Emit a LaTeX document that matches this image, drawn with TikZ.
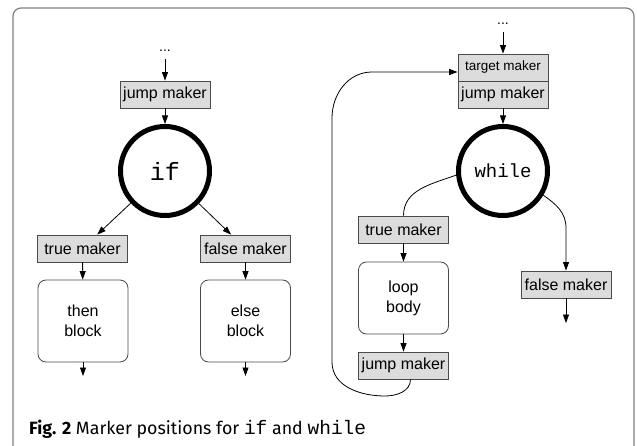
\documentclass[tikz,border=0pt]{standalone}
\usepackage{fontspec}
\setmainfont{Liberation Sans}
\setmonofont{Liberation Mono}
\newfontfamily\capfont{Fira Sans}
\usetikzlibrary{arrows.meta,calc}
\definecolor{boxfill}{HTML}{DCDCDC}
\definecolor{boxline}{HTML}{4A4A4A}
\definecolor{framecol}{HTML}{808080}
\begin{document}
\begin{tikzpicture}[x=1pt,y=1pt,
  marker/.style={draw=boxline, fill=boxfill, line width=0.8pt, minimum width=90pt,
    minimum height=27pt, inner sep=0pt, font=\fontsize{16}{18}\selectfont},
  block/.style={draw=boxline, fill=white, rounded corners=8pt, line width=0.8pt,
    minimum width=90pt, minimum height=82pt, align=center, inner sep=0pt,
    font=\fontsize{16}{20}\selectfont},
  cond/.style={circle, draw=black, line width=5pt, minimum size=89pt, inner sep=0pt},
  dotsn/.style={inner sep=0pt, font=\fontsize{14}{14}\selectfont},
  arr/.style={-{Triangle[length=8.5pt,width=6pt]}, line width=0.8pt},
  conn/.style={line width=0.8pt}]
\useasboundingbox (0,0) rectangle (637,-446);
\draw[framecol, line width=1.2pt, rounded corners=8pt] (13,-450) -- (13,-8) -- (634,-8) -- (634,-450);

% left: if
\node[dotsn] (d1) at (165,-51) {...};
\node[marker] (jm1) at (165,-94.5) {jump maker};
\node[cond, font=\fontsize{25}{25}\ttfamily] (if) at (165,-171) {if};
\node[marker] (tm1) at (82.5,-248.5) {true maker};
\node[marker] (fm1) at (245.5,-248.5) {false maker};
\node[block] (then) at (83,-321) {then\\block};
\node[block] (else) at (245.5,-321) {else\\block};
\coordinate (o1) at (83,-376);
\coordinate (o2) at (245.5,-376);

\draw[arr, shorten <=7pt] (d1) -- (jm1);
\draw[arr] (jm1) -- (if);
\draw[arr] (if) -- (tm1);
\draw[arr] (if) -- (fm1);
\draw[arr] (tm1) -- (then);
\draw[arr] (fm1) -- (else);
\draw[arr] (then) -- (o1);
\draw[arr] (else) -- (o2);

% right: while
\node[dotsn] (d2) at (503,-24) {...};
\node[marker, font=\fontsize{13.5}{14}\selectfont] (tg) at (503,-67.5) {target maker};
\node[marker] (jm2) at (503,-94.5) {jump maker};
\node[cond, font=\fontsize{19}{19}\ttfamily] (wh) at (503,-171) {while};
\node[marker] (tm2) at (403.5,-229.5) {true maker};
\node[block, minimum height=72pt] (body) at (403.5,-298) {loop\\body};
\node[marker] (jm3) at (403.5,-365.5) {jump maker};
\node[marker] (fm2) at (566,-284.5) {false maker};
\coordinate (o3) at (566,-323);
\coordinate (fv) at (566,-228);
\coordinate (lb1) at (385,-396);
\coordinate (lb2) at (332,-362);
\coordinate (lt1) at (332,-118);
\coordinate (lt2) at (372,-72);

\draw[arr, shorten <=7pt] (d2) -- (tg);
\draw[arr] (jm2) -- (wh);
\draw[conn] (wh.185) to[out=200,in=90] (tm2.north);
\draw[arr] (wh.-31) to[out=-35,in=90] (fv) -- (fm2.north);
\draw[arr] (fm2) -- (o3);
\draw[arr] (tm2) -- (body);
\draw[arr] (body) -- (jm3);
\draw[arr] ($(jm3.south)+(7,0)$) to[out=-90,in=0] (lb1) to[out=180,in=-90] (lb2)
  -- (lt1) to[out=90,in=180] (lt2) -- (lt2 -| tg.west);

% caption
\node[anchor=base west, inner sep=0pt, font=\capfont\fontsize{17.8}{18}\selectfont] (cap) at (29,-434)
  {\textbf{Fig. 2} Marker positions for {\ttfamily\fontsize{19.5}{19}\selectfont if} and {\ttfamily\fontsize{19.5}{19}\selectfont while}};
\end{tikzpicture}
\end{document}
